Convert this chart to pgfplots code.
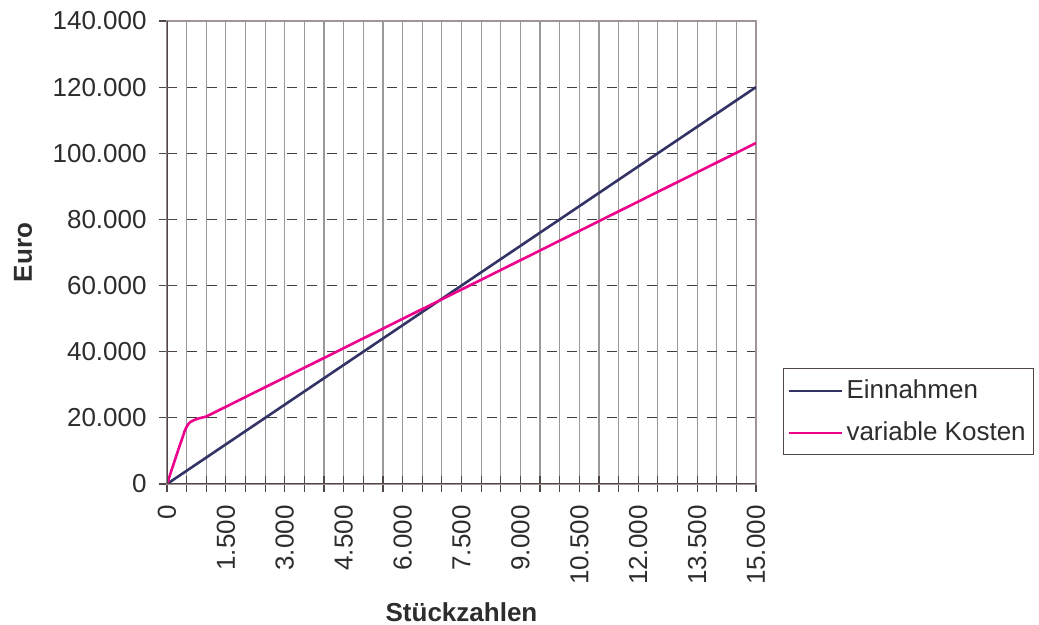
\documentclass[border=0pt]{standalone}
\usepackage{pgfplots}
\pgfplotsset{compat=1.18}
\usepackage{fontspec}
\setmainfont{Liberation Sans}
\definecolor{einn}{RGB}{51,51,102}
\definecolor{kost}{RGB}{236,0,140}
\definecolor{txt}{RGB}{45,45,45}
\definecolor{frame}{RGB}{160,150,150}
\definecolor{axdark}{RGB}{80,70,70}
\newcommand{\chartfont}{\fontsize{13}{15}\selectfont}
\begin{document}
\begin{tikzpicture}
\useasboundingbox (-83.5pt,-70.5pt) rectangle (436pt,242pt);
\begin{axis}[
    scale only axis,
    width=294.5pt, height=231.5pt,
    xmin=0, xmax=15000, ymin=0, ymax=140000,
    scaled ticks=false,
    xtick={0,1500,...,15000},
    xticklabels={0,1.500,3.000,4.500,6.000,7.500,9.000,10.500,12.000,13.500,15.000},
    minor x tick num=2,
    ytick={0,20000,...,140000},
    yticklabels={0,20.000,40.000,60.000,80.000,100.000,120.000,140.000},
    xtick pos=bottom, ytick pos=left,
    tick align=center,
    major tick length=8pt, minor tick length=8pt,
    every tick/.style={axdark, line width=0.6pt},
    axis line style={frame, line width=0.8pt},
    xmajorgrids, xminorgrids, ymajorgrids,
    x grid style={gray!80, line width=0.6pt},
    minor x grid style={gray!80, line width=0.6pt},
    y grid style={black!75, line width=0.6pt, dash pattern=on 5pt off 5pt},
    tick label style={font=\chartfont, text=txt},
    yticklabel style={anchor=east, inner sep=0pt, xshift=-6pt},
    xticklabel style={yshift=-6.5pt, rotate=90, anchor=east, inner sep=0pt},
    xlabel={\textbf{Stückzahlen}},
    ylabel={\textbf{Euro}},
    label style={font=\chartfont, text=txt},
    x label style={at={([yshift=-64pt]rel axis cs:0.5,0)}, anchor=center},
    y label style={at={([xshift=-72pt]rel axis cs:0,0.5)}, anchor=center},
    legend style={at={(rel axis cs:1,0)}, xshift=13.5pt, yshift=14.5pt,
        anchor=south west, draw=axdark, line width=0.5pt, font=\chartfont,
        text=txt, cells={anchor=west}, inner xsep=2pt, inner ysep=3.5pt,
        row sep=6pt},
    legend image code/.code={\draw[#1, line width=1pt] (0pt,0pt) -- (26.5pt,0pt);},
]
\addplot[einn, line width=1.3pt] coordinates {(0,0) (15000,120000)};
\addlegendentry{Einnahmen}
\addplot[kost, line width=1.3pt] coordinates {
(0,0) (100,3600) (200,7200) (300,10800) (400,14200) (450,16000) (500,17300)
(550,18200) (600,18800) (700,19400) (800,19800) (900,20100) (1000,20400)
(15000,103100)};
\addlegendentry{variable Kosten}
\draw[axdark, line width=0.8pt] (rel axis cs:0,0) -- (rel axis cs:0,1);
\draw[axdark, line width=0.8pt] (rel axis cs:0,0) -- (rel axis cs:1,0);
\end{axis}
\end{tikzpicture}
\end{document}
